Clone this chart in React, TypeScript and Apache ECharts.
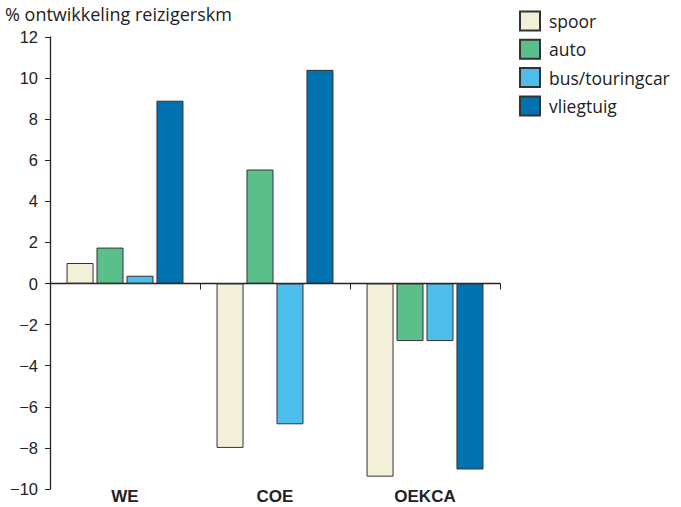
import React, { useEffect, useRef } from "react";
import * as echarts from "echarts";

const categories = ["WE", "COE", "OEKCA"];
const seriesNames = ["spoor", "auto", "bus/touringcar", "vliegtuig"];
const spoor = [1.0, -8.0, -9.4];
const auto = [1.75, 5.55, -2.8];
const bus = [0.38, -6.85, -2.8];
const vliegtuig = [8.9, 10.4, -9.05];
const colors = ["#F2F0D8", "#5BBF8C", "#4DBDEB", "#0072AF"];
const yTitle = "% ontwikkeling reizigerskm";

const FONT = "'Open Sans', 'Noto Sans', sans-serif";
const NUMFONT = "'Liberation Sans', Arial, sans-serif";

export default function App() {
  const ref = useRef<HTMLDivElement>(null);
  useEffect(() => {
    document.body.style.margin = "0";
    const chart = echarts.init(ref.current!, undefined, { renderer: "svg" });
    const values = [spoor, auto, bus, vliegtuig];
    chart.setOption({
      animation: false,
      textStyle: { fontFamily: FONT },
      graphic: [
        {
          type: "text",
          left: 5,
          top: 5,
          style: { text: yTitle, fontSize: 18, fill: "#222", fontFamily: FONT },
        },
      ],
      legend: {
        orient: "vertical",
        left: 519,
        top: 10.5,
        padding: 0,
        itemWidth: 20,
        itemHeight: 19,
        itemGap: 7.3,
        textStyle: { fontSize: 17.5, lineHeight: 19, color: "#222", fontFamily: FONT, padding: [0, 0, 0, 4] },
        data: seriesNames.map((n) => ({ name: n, icon: "rect" })),
      },
      grid: { left: 50, right: 181, top: 37, bottom: 18, containLabel: false },
      xAxis: [
        {
          type: "category",
          data: categories,
          axisLine: { onZero: true, lineStyle: { color: "#222", width: 1.3 } },
          axisTick: { show: true, length: 6, lineStyle: { color: "#222" } },
          axisLabel: { show: false },
        },
        {
          type: "category",
          data: categories,
          position: "bottom",
          axisLine: { show: false, onZero: false },
          axisTick: { show: false },
          axisLabel: {
            show: true,
            fontSize: 17,
            lineHeight: 15,
            fontWeight: "bold",
            color: "#222",
            margin: 0,
            fontFamily: NUMFONT,
          },
        },
      ],
      yAxis: {
        type: "value",
        min: -10,
        max: 12,
        interval: 2,
        axisLine: { show: true, lineStyle: { color: "#222", width: 1.3 } },
        axisTick: { show: true, length: 5, lineStyle: { color: "#222" } },
        splitLine: { show: false },
        axisLabel: {
          fontSize: 16.5,
          color: "#222",
          margin: 12,
          fontFamily: NUMFONT,
          formatter: (v: number) => (v < 0 ? "\u2212" + Math.abs(v) : String(v)),
        },
      },
      series: seriesNames.map((name, i) => ({
        name,
        type: "bar",
        xAxisIndex: 0,
        data: values[i],
        barWidth: "18%",
        barGap: "11%",
        itemStyle: { color: colors[i], borderColor: "#333", borderWidth: 1 },
      })),
    });
    return () => chart.dispose();
  }, []);
  return <div ref={ref} style={{ width: 681, height: 507 }} />;
}
